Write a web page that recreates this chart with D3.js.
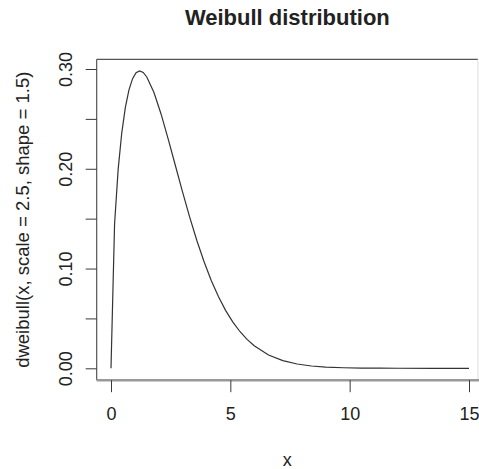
<!DOCTYPE html>
<html><head><meta charset="utf-8">
<script src="https://cdn.jsdelivr.net/npm/d3@7"></script>
<style>html,body{margin:0;padding:0;background:#fff;}svg{display:block;}</style>
</head><body>
<script>
const title = "Weibull distribution";
const xLabel = "x";
const yLabel = "dweibull(x, scale = 2.5, shape = 1.5)";
const xs = [0,0.15,0.3,0.45,0.6,0.75,0.9,1.05,1.2,1.35,1.5,1.8,2.1,2.4,2.7,3.0,3.3,3.6,3.9,4.2,4.5,4.8,5.1,5.4,5.7,6.0,6.6,7.2,7.8,8.4,9.0,9.75,10.5,11.25,12,13.5,15];
const ys = [0,0.1448,0.1994,0.2358,0.2613,0.2788,0.2901,0.2962,0.2981,0.2965,0.2920,0.2764,0.2547,0.2295,0.2030,0.1765,0.1513,0.1279,0.1068,0.0881,0.0719,0.0581,0.0465,0.0369,0.0290,0.0226,0.01337,0.00768,0.00428,0.00233,0.00123,0.00054,0.00023,0.00009,0.00003,0.000003,0];
const xTicks = [0,5,10,15];
const yTicks = [0,0.05,0.10,0.15,0.20,0.25,0.30];
const yTickLabels = ["0.00","","0.10","","0.20","","0.30"];

const W = 479, H = 469;
const svg = d3.select("body").append("svg").attr("width", W).attr("height", H);
const x = d3.scaleLinear().domain([0, 15]).range([111, 469]);
const y = d3.scaleLinear().domain([0, 0.30]).range([368.3, 69]);
const pL = x(-0.6), pR = 478, pT = y(0.3097), pB = y(-0.0119);
const font = "'Liberation Sans', Arial, Helvetica, sans-serif";
const ink = "#3a3a3a";

// box
svg.append("line").attr("x1", pL).attr("x2", pR).attr("y1", pT).attr("y2", pT).attr("stroke", "#555").attr("stroke-width", 1.2);
svg.append("line").attr("x1", pL).attr("x2", pL).attr("y1", pT).attr("y2", pB).attr("stroke", "#555").attr("stroke-width", 1.2);
svg.append("line").attr("x1", pR).attr("x2", pR).attr("y1", pT).attr("y2", pB).attr("stroke", "#ddd").attr("stroke-width", 1);
svg.append("line").attr("x1", pL).attr("x2", W).attr("y1", pB).attr("y2", pB).attr("stroke", "#999").attr("stroke-width", 2.5);

// x axis
const xAxis = d3.axisBottom(x).tickValues(xTicks).tickSize(12).tickPadding(15).tickFormat(d3.format("d"));
const gx = svg.append("g").attr("transform", `translate(0,${pB})`).call(xAxis);
gx.select(".domain").remove();
gx.selectAll(".tick line").attr("stroke", ink);
gx.selectAll(".tick text").attr("font-family", font).attr("font-size", 18).attr("fill", "#222");

// y axis
const yAxis = d3.axisLeft(y).tickValues(yTicks).tickSize(11).tickFormat((d, i) => yTickLabels[i]);
const gy = svg.append("g").attr("transform", `translate(${pL},0)`).call(yAxis);
gy.select(".domain").remove();
gy.selectAll(".tick line").attr("stroke", ink);
gy.selectAll(".tick text")
  .attr("font-family", font).attr("font-size", 18).attr("fill", "#222")
  .attr("x", 0).attr("dy", 0)
  .attr("text-anchor", "middle")
  .attr("transform", `translate(${66 - pL + 6},0) rotate(-90)`);

// curve
const line = d3.line().x((d, i) => x(xs[i])).y((d, i) => y(ys[i]));
svg.append("path").datum(ys).attr("d", line).attr("fill", "none").attr("stroke", "#333").attr("stroke-width", 1.2);

// title and labels
svg.append("text").attr("x", (pL + pR) / 2).attr("y", 25).attr("text-anchor", "middle")
  .attr("font-family", font).attr("font-weight", "bold").attr("font-size", 22).attr("fill", "#222").text(title);
svg.append("text").attr("x", (pL + pR) / 2).attr("y", 466).attr("text-anchor", "middle")
  .attr("font-family", font).attr("font-size", 18).attr("fill", "#222").text(xLabel);
svg.append("text").attr("transform", `translate(29,${(pT + pB) / 2}) rotate(-90)`).attr("text-anchor", "middle")
  .attr("font-family", font).attr("font-size", 18.5).attr("fill", "#222").text(yLabel);
</script>
</body></html>
